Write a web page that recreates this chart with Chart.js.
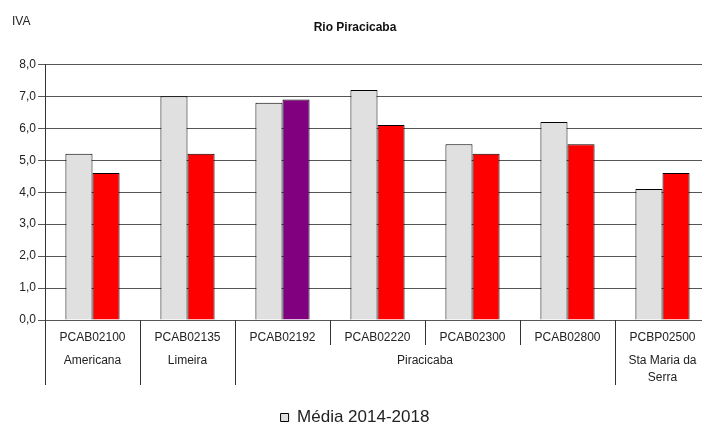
<!DOCTYPE html>
<html>
<head>
<meta charset="utf-8">
<script src="https://cdn.jsdelivr.net/npm/chart.js@4"></script>
<style>
  html, body { margin: 0; padding: 0; background: #fff; overflow: hidden; }
  #wrap { width: 712px; height: 426px; }
</style>
</head>
<body>
<div id="wrap"><canvas id="chart"></canvas></div>
<script>
const stations = ['PCAB02100', 'PCAB02135', 'PCAB02192', 'PCAB02220', 'PCAB02300', 'PCAB02800', 'PCBP02500'];
const mediaValues = [5.2, 7.0, 6.8, 7.2, 5.5, 6.2, 4.1];
const anoValues = [4.6, 5.2, 6.9, 6.1, 5.2, 5.5, 4.6];
const anoColors = ['#ff0000', '#ff0000', '#800080', '#ff0000', '#ff0000', '#ff0000', '#ff0000'];
const groupNames = [['Americana'], ['Limeira'], ['Piracicaba'], ['Sta Maria da', 'Serra']];
const groupSpans = [1, 1, 4, 1];
const yLabel = 'IVA';

const FONT = "'Liberation Sans', Arial, sans-serif";

// draws the station dividers, the city row and the "IVA" label
const groupRows = {
  id: 'groupRows',
  afterDraw(chart) {
    const ctx = chart.ctx;
    const area = chart.chartArea;
    const step = (area.right - area.left) / stations.length;
    const bounds = [0];
    groupSpans.forEach(s => bounds.push(bounds[bounds.length - 1] + s));

    ctx.save();
    ctx.strokeStyle = '#333';
    ctx.lineWidth = 1;
    for (let i = 0; i <= stations.length; i++) {
      const px = Math.round(area.left + i * step) + 0.5;
      const long = bounds.includes(i);
      ctx.beginPath();
      ctx.moveTo(px, area.bottom);
      ctx.lineTo(px, area.bottom + (long ? 65 : 25));
      ctx.stroke();
    }

    ctx.fillStyle = '#222';
    ctx.font = '12px ' + FONT;
    ctx.textAlign = 'center';
    ctx.textBaseline = 'middle';
    groupNames.forEach((lines, g) => {
      const cx = area.left + (bounds[g] + groupSpans[g] / 2) * step;
      lines.forEach((t, k) => ctx.fillText(t, cx, area.bottom + 41 + k * 17));
    });

    ctx.textAlign = 'left';
    ctx.fillText(yLabel, 12, 22);
    ctx.restore();
  }
};

new Chart(document.getElementById('chart'), {
  type: 'bar',
  data: {
    labels: stations,
    datasets: [
      {
        label: 'Média 2014-2018',
        data: mediaValues,
        backgroundColor: '#e0e0e0',
        borderColor: '#000',
        borderWidth: 1,
        borderSkipped: 'bottom'
      },
      {
        label: '2019',
        data: anoValues,
        backgroundColor: anoColors,
        borderColor: '#000',
        borderWidth: 1,
        borderSkipped: 'bottom'
      }
    ]
  },
  options: {
    responsive: true,
    maintainAspectRatio: false,
    animation: false,
    layout: { padding: { left: 0, right: 2, top: 0, bottom: -10 } },
    datasets: {
      bar: { categoryPercentage: 0.57, barPercentage: 1.0 }
    },
    scales: {
      x: {
        grid: { display: false },
        border: { display: false },
        ticks: { color: '#222', font: { family: FONT, size: 12 }, padding: 2, maxRotation: 0 },
        afterFit: scale => { scale.height = 89; }
      },
      y: {
        min: 0,
        max: 8,
        ticks: {
          stepSize: 1,
          color: '#222',
          font: { family: FONT, size: 12 },
          padding: 2,
          callback: v => v.toFixed(1).replace('.', ',')
        },
        grid: { color: '#555', lineWidth: 1, tickLength: 7 },
        border: { display: true, color: '#333' },
        afterFit: scale => { scale.width = 45; }
      }
    },
    plugins: {
      title: {
        display: true,
        text: 'Rio Piracicaba',
        color: '#111',
        font: { family: FONT, size: 12, weight: 'bold' },
        padding: { top: 20, bottom: 30 }
      },
      legend: {
        position: 'bottom',
        labels: {
          filter: item => item.datasetIndex === 0,
          color: '#222',
          font: { family: FONT, size: 17 },
          boxWidth: 8,
          boxHeight: 8,
          padding: 0
        }
      },
      tooltip: { enabled: false }
    }
  },
  plugins: [groupRows]
});
</script>
</body>
</html>
